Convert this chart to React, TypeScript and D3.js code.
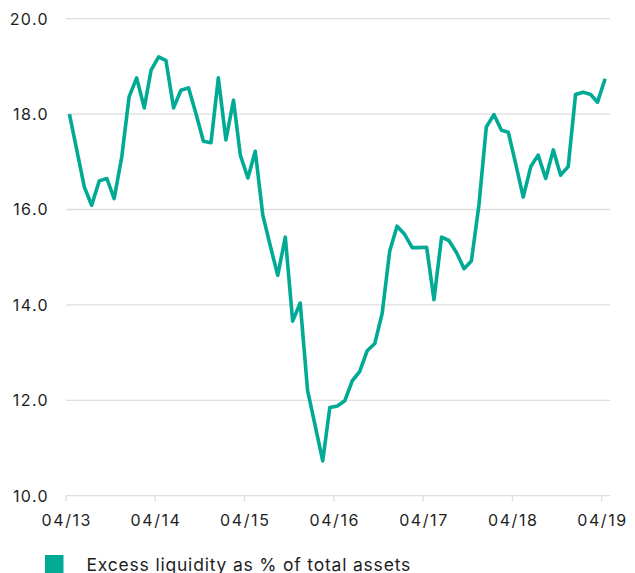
import React from "react";
import * as d3 from "d3";

const startMonth = "2013-04-15";
const values: number[] = [
  18.0, 17.25, 16.47, 16.09, 16.6, 16.65, 16.23, 17.1, 18.36, 18.76, 18.13, 18.92,
  19.2, 19.12, 18.13, 18.5, 18.55, 18.0, 17.43, 17.4, 18.76, 17.46, 18.29, 17.14,
  16.66, 17.22, 15.88, 15.25, 14.62, 15.42, 13.66, 14.04, 12.21, 11.47, 10.73, 11.85,
  11.88, 11.99, 12.41, 12.6, 13.04, 13.19, 13.82, 15.13, 15.65, 15.48, 15.2, 15.2,
  15.21, 14.11, 15.42, 15.35, 15.1, 14.76, 14.92, 16.1, 17.73, 17.99, 17.66, 17.62,
  16.94, 16.26, 16.9, 17.14, 16.65, 17.25, 16.72, 16.9, 18.41, 18.46, 18.41, 18.25,
  18.74,
];
const xTickLabels = ["04/13", "04/14", "04/15", "04/16", "04/17", "04/18", "04/19"];
const xTickDates = ["2013-04-01", "2014-04-01", "2015-04-01", "2016-04-01", "2017-04-01", "2018-04-01", "2019-04-01"];
const yTicks = [10, 12, 14, 16, 18, 20];
const legendLabel = "Excess liquidity as % of total assets";

const W = 635;
const H = 573;
const LINE = "#00aa94";
const GRID = "#dedede";
const FONT = "Inter, 'Noto Sans', sans-serif";

export default function App() {
  const parse = d3.utcParse("%Y-%m-%d");
  const start = parse(startMonth)!;
  const dates = values.map((_, i) => d3.utcMonth.offset(start, i));
  const tickDates = xTickDates.map((s) => parse(s)!);

  const x = d3
    .scaleUtc()
    .domain([tickDates[0], tickDates[tickDates.length - 1]])
    .range([66, 601.7]);
  const y = d3.scaleLinear().domain([10, 20]).range([495.7, 18.7]);

  const line = d3
    .line<number>()
    .x((_, i) => x(dates[i]))
    .y((d) => y(d))
    .curve(d3.curveLinear);

  return (
    <svg
      width={W}
      height={H}
      style={{ position: "absolute", left: 0, top: 0, background: "#fff" }}
      fontFamily={FONT}
    >
      {yTicks.map((t) => (
        <g key={t}>
          <line x1={66} x2={610} y1={y(t)} y2={y(t)} stroke={GRID} strokeWidth={1.3} />
          <text
            x={49}
            y={y(t) + 5.9}
            textAnchor="end"
            fontSize={16}
            letterSpacing={1.4}
            fill="#1e1e1e"
          >
            {t.toFixed(1)}
          </text>
        </g>
      ))}
      {tickDates.map((d, i) => (
        <g key={i}>
          <line x1={x(d)} x2={x(d)} y1={y(10)} y2={y(10) + 5.5} stroke={GRID} strokeWidth={1.3} />
          <text
            x={x(d) + 0.8}
            y={525.8}
            textAnchor="middle"
            fontSize={16}
            letterSpacing={1.6}
            fill="#1e1e1e"
          >
            {xTickLabels[i]}
          </text>
        </g>
      ))}
      <path
        d={line(values) || ""}
        fill="none"
        stroke={LINE}
        strokeWidth={3.6}
        strokeLinejoin="round"
        strokeLinecap="butt"
      />
      <rect x={45} y={555} width={18.5} height={18.5} fill={LINE} />
      <text x={86.5} y={570.7} fontSize={17.5} letterSpacing={0.8} fill="#1e1e1e">
        {legendLabel}
      </text>
    </svg>
  );
}
